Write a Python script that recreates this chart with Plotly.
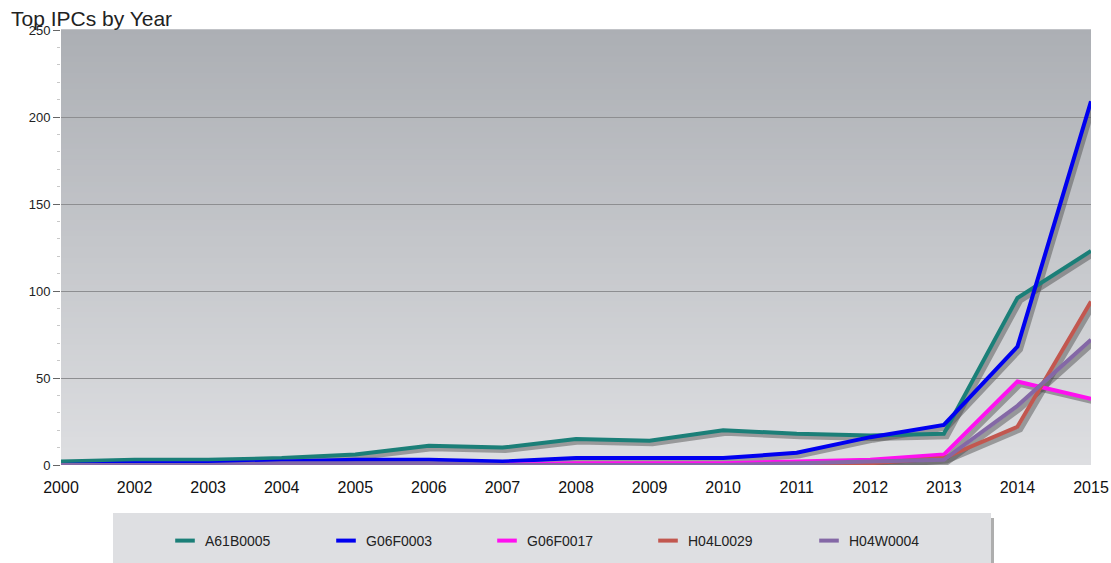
import plotly.graph_objects as go

# Category axis (2001 has no entry)
years = ["2000", "2002", "2003", "2004", "2005", "2006", "2007", "2008",
         "2009", "2010", "2011", "2012", "2013", "2014", "2015"]

# Counts per IPC class and year
a61b0005 = [2, 3, 3, 4, 6, 11, 10, 15, 14, 20, 18, 17, 18, 96, 123]
g06f0003 = [0, 1, 1, 2, 3, 3, 2, 4, 4, 4, 7, 16, 23, 68, 209]
g06f0017 = [0, 0, 0, 0, 0, 0, 0, 1, 1, 1, 2, 3, 6, 48, 38]
h04l0029 = [0, 0, 0, 0, 0, 0, 0, 0, 0, 0, 0, 1, 4, 22, 94]
h04w0004 = [0, 0, 0, 1, 1, 1, 0, 0, 0, 0, 1, 2, 3, 34, 72]

series = [
    ("A61B0005", a61b0005, "#1b7f78"),
    ("G06F0003", g06f0003, "#0000f0"),
    ("G06F0017", g06f0017, "#ff10f0"),
    ("H04L0029", h04l0029, "#c2574f"),
    ("H04W0004", h04w0004, "#8468a6"),
]

W, H = 1111, 563
ML, MR, MT, MB = 61, 20, 30, 98
YMAX = 250
xpos = list(range(len(years)))

# shadow offset in data units (about 3 px right and down)
px_per_x = (W - ML - MR) / (len(years) - 1)
px_per_y = (H - MT - MB) / YMAX
sdx = 3 / px_per_x
sdy = -3 / px_per_y

fig = go.Figure()

# drop shadows under every line
for name, vals, col in series:
    fig.add_trace(go.Scatter(
        x=[v + sdx for v in xpos], y=[v + sdy for v in vals],
        mode="lines", line=dict(color="rgba(70,70,70,0.45)", width=5),
        hoverinfo="skip", showlegend=False,
    ))

for name, vals, col in series:
    fig.add_trace(go.Scatter(
        x=xpos, y=vals, mode="lines", name=name, legendgroup=name,
        line=dict(color=col, width=4), showlegend=False,
    ))

# short dash swatches for the legend
for name, vals, col in series:
    fig.add_trace(go.Scatter(
        x=[None], y=[None], mode="markers", name=name, legendgroup=name,
        marker=dict(symbol="line-ew", size=14, color=col,
                    line=dict(color=col, width=4)),
        hoverinfo="skip",
    ))

# vertical gradient plot background built from thin bands
shapes = []
n = 80
top = (172, 175, 180)
bot = (221, 222, 225)
for i in range(n):
    t = i / (n - 1)
    c = tuple(round(top[k] + (bot[k] - top[k]) * t) for k in range(3))
    shapes.append(dict(
        type="rect", xref="x domain", yref="y domain",
        x0=0, x1=1, y0=1 - (i + 1) / n, y1=1 - i / n + 0.002,
        fillcolor="rgb(%d,%d,%d)" % c, line=dict(width=0), layer="below",
    ))

# legend panel with a soft right-hand shadow
plot_w = W - ML - MR
plot_h = H - MT - MB
def px_x(p):
    return (p - ML) / plot_w
def px_y(p):
    return (H - MB - p) / plot_h

shapes.append(dict(
    type="rect", xref="paper", yref="paper",
    x0=px_x(991), x1=px_x(994), y0=px_y(518), y1=px_y(570),
    fillcolor="rgba(120,120,120,0.6)", line=dict(width=0), layer="below",
))
shapes.append(dict(
    type="rect", xref="paper", yref="paper",
    x0=px_x(113), x1=px_x(991), y0=px_y(513), y1=px_y(570),
    fillcolor="#dedfe2", line=dict(width=0), layer="below",
))

fig.update_layout(
    width=W, height=H,
    margin=dict(l=ML, r=MR, t=MT, b=MB, autoexpand=False),
    paper_bgcolor="white",
    plot_bgcolor="rgba(0,0,0,0)",
    font=dict(family="Liberation Sans, Arial, sans-serif", color="#222", size=13),
    title=dict(text="Top IPCs by Year", xref="container", yref="container",
               x=11 / W, y=1 - 19 / H, xanchor="left", yanchor="middle",
               font=dict(size=21, color="#222")),
    shapes=shapes,
    showlegend=True,
    legend=dict(
        orientation="h", x=px_x(165), y=px_y(541),
        xanchor="left", yanchor="middle",
        bgcolor="rgba(0,0,0,0)", entrywidth=116, entrywidthmode="pixels",
        font=dict(size=14, color="#222"), itemwidth=30,
    ),
    xaxis=dict(
        tickmode="array", tickvals=xpos, ticktext=years,
        range=[0, len(years) - 1], showgrid=False, zeroline=False,
        showline=False, ticks="", tickfont=dict(size=16, color="#111"),
        ticklabelstandoff=11, automargin=False,
    ),
    yaxis=dict(
        range=[0, YMAX], dtick=50, showgrid=True, gridcolor="#8d8e91",
        gridwidth=1, zeroline=False, showline=False,
        ticks="outside", ticklen=7, tickcolor="#666",
        tickfont=dict(size=13, color="#222"), automargin=False,
        minor=dict(dtick=10, ticks="outside", ticklen=3, tickcolor="#c8c8c8",
                   showgrid=False),
    ),
)

fig.write_html("out.html")
